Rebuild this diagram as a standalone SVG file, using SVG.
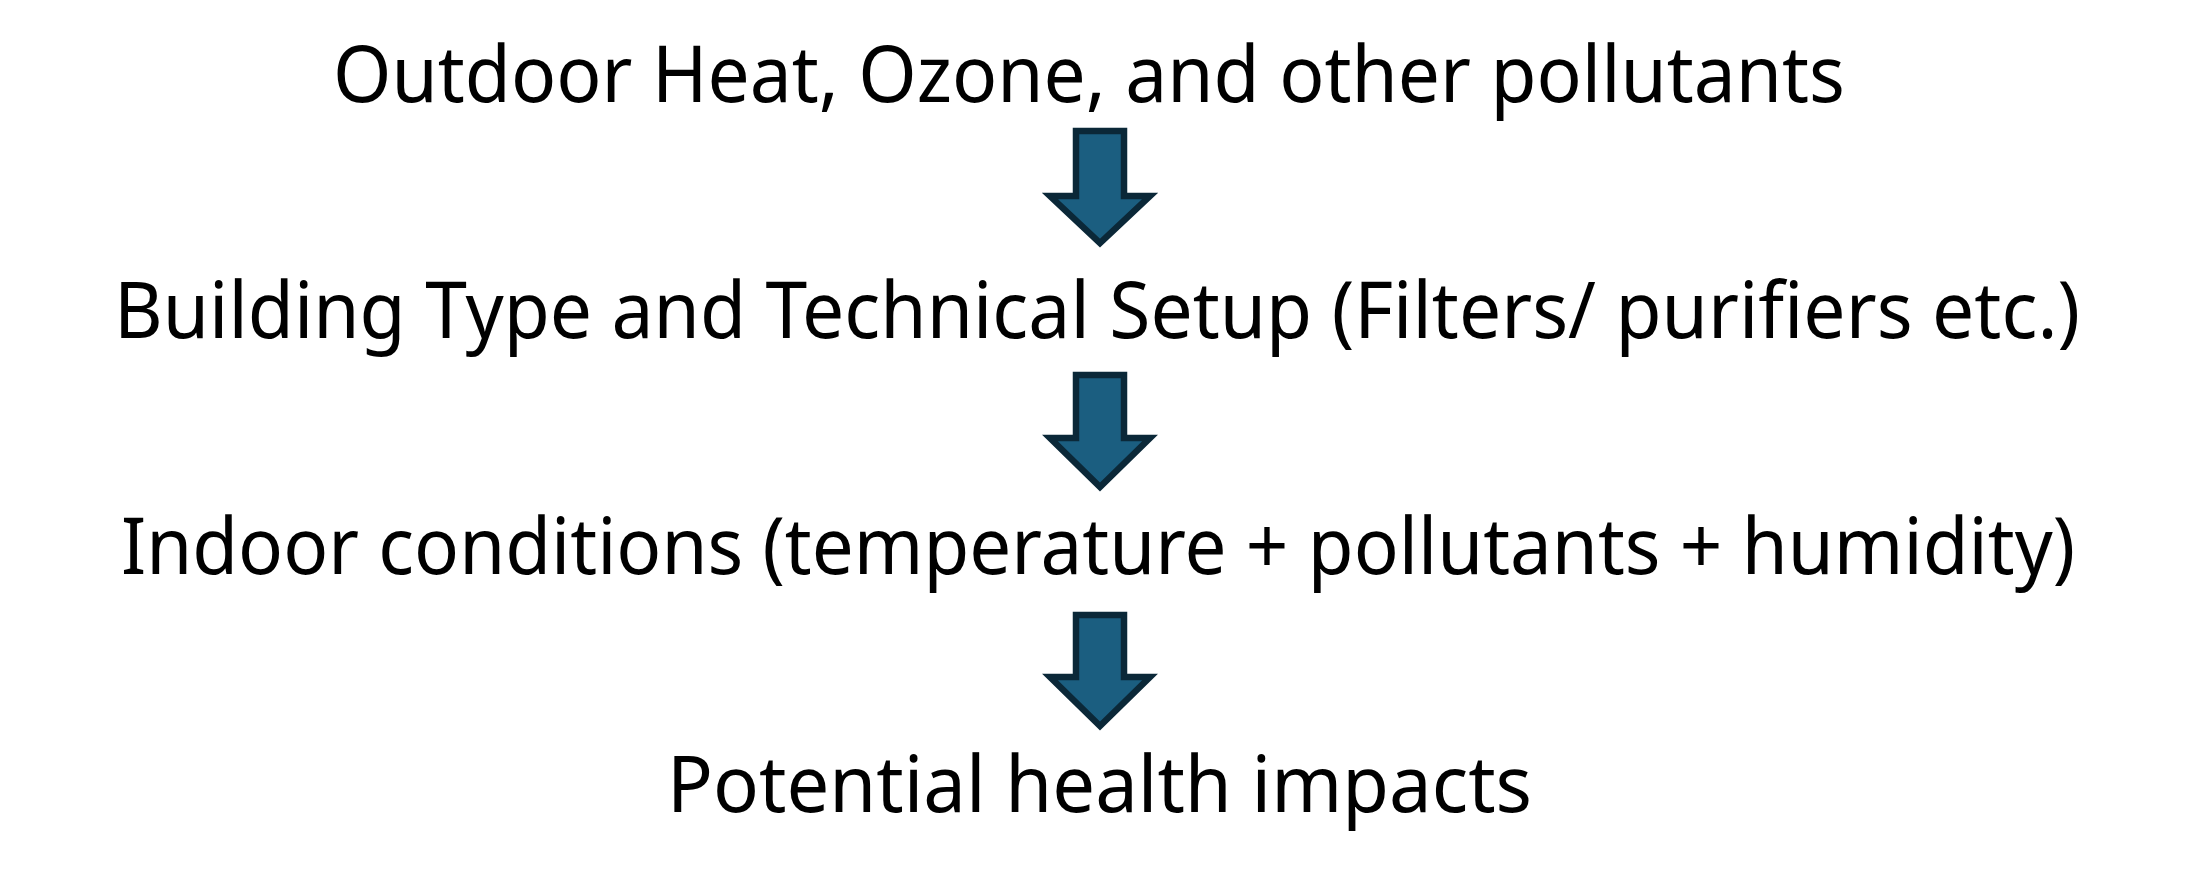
<svg xmlns="http://www.w3.org/2000/svg" width="2200" height="884" viewBox="0 0 2200 884">
<style>
.lbl{font-family:"Noto Sans","Liberation Sans",Arial,sans-serif;font-size:78px;fill:#000}
.arr{fill:#1b5e80;stroke:#0b2838;stroke-width:6.5;stroke-linejoin:miter;stroke-miterlimit:10}
</style>
<rect width="2200" height="884" fill="#fff"/>
<g id="n1"><text class="lbl" x="333" y="102" textLength="1512" lengthAdjust="spacingAndGlyphs">Outdoor Heat, Ozone, and other pollutants</text></g>
<g id="n2"><text class="lbl" x="114" y="338" textLength="1966" lengthAdjust="spacingAndGlyphs">Building Type and Technical Setup (Filters/ purifiers etc.)</text></g>
<g id="n3"><text class="lbl" x="121" y="574" textLength="1954" lengthAdjust="spacingAndGlyphs">Indoor conditions (temperature + pollutants + humidity)</text></g>
<g id="n4"><text class="lbl" x="667" y="812" textLength="865" lengthAdjust="spacingAndGlyphs">Potential health impacts</text></g>
<g id="connectors">
<path class="arr" d="M1076,131 H1124 V196 H1150 L1100,243 L1050,196 H1076 Z"/>
<path class="arr" d="M1076,375 H1124 V438 H1150 L1100,487 L1050,438 H1076 Z"/>
<path class="arr" d="M1076,615 H1124 V677 H1150 L1100,726 L1050,677 H1076 Z"/>
</g>
</svg>
